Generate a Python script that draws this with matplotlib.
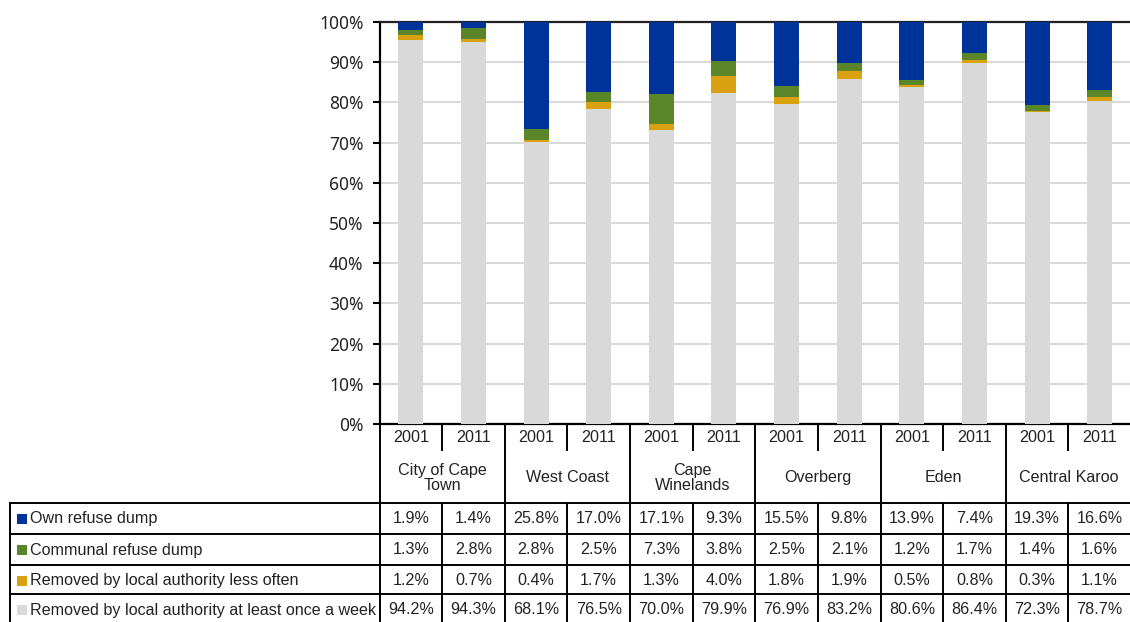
import matplotlib
matplotlib.use("Agg")
import matplotlib.pyplot as plt
import numpy as np
from matplotlib.patches import Rectangle
from matplotlib.lines import Line2D
import matplotlib.transforms as mtransforms

districts = ["City of Cape\nTown", "West Coast", "Cape\nWinelands", "Overberg", "Eden", "Central Karoo"]
years = ["2001", "2011"]
series_names = ["Own refuse dump", "Communal refuse dump",
                "Removed by local authority less often",
                "Removed by local authority at least once a week"]
own = [1.9, 1.4, 25.8, 17.0, 17.1, 9.3, 15.5, 9.8, 13.9, 7.4, 19.3, 16.6]
communal = [1.3, 2.8, 2.8, 2.5, 7.3, 3.8, 2.5, 2.1, 1.2, 1.7, 1.4, 1.6]
less_often = [1.2, 0.7, 0.4, 1.7, 1.3, 4.0, 1.8, 1.9, 0.5, 0.8, 0.3, 1.1]
weekly = [94.2, 94.3, 68.1, 76.5, 70.0, 79.9, 76.9, 83.2, 80.6, 86.4, 72.3, 78.7]
y_ticks = [0, 10, 20, 30, 40, 50, 60, 70, 80, 90, 100]

colors = {"own": "#003399", "communal": "#5B8529", "less": "#D9A00F", "weekly": "#D9D9D9"}

W, H = 1130, 622
fig = plt.figure(figsize=(W / 100, H / 100), dpi=100)
fig.patch.set_facecolor("white")

def fx(px):
    return px / W

def fy(py):
    return 1 - py / H

ax_left, ax_right, ax_top, ax_bot = 379.5, 1131.0, 22.0, 424.0
ax = fig.add_axes([fx(ax_left), fy(ax_bot), (ax_right - ax_left) / W, (ax_bot - ax_top) / H])

n = len(weekly)
x = np.arange(n)
data = np.array([weekly, less_often, communal, own], dtype=float)
totals = data.sum(axis=0)
pct = data / totals * 100
stack_colors = [colors["weekly"], colors["less"], colors["communal"], colors["own"]]
bottom = np.zeros(n)
for vals, c in zip(pct, stack_colors):
    ax.bar(x, vals, bottom=bottom, width=0.4, color=c, edgecolor="none", zorder=3)
    bottom += vals

ax.set_xlim(-0.5, n - 0.5)
ax.set_ylim(0, 100)
ax.set_yticks(y_ticks)
ax.set_yticklabels([f"{t}%" for t in y_ticks], fontsize=12.5, family=["Noto Sans", "DejaVu Sans"], color="#222222")
ax.set_xticks([])
ax.yaxis.grid(True, color="#D9D9D9", linewidth=1.5, zorder=0)
ax.set_axisbelow(True)
ax.spines["right"].set_visible(False)
for s in ["left", "bottom", "top"]:
    ax.spines[s].set_linewidth(1.6)
    ax.spines[s].set_color("black")
ax.spines["top"].set_color("#222222")
ax.tick_params(axis="y", direction="out", length=5, width=1.5, pad=6.5, color="black")

trans = mtransforms.blended_transform_factory(ax.transData, fig.transFigure)
font = ["Liberation Sans", "DejaVu Sans"]
fs = 11.6
lw = 1.4

def vline(xd, y0, y1):
    fig.add_artist(Line2D([xd, xd], [fy(y0), fy(y1)], transform=trans, color="black", lw=lw, clip_on=False))

def hline(y, x0=10, x1=W):
    fig.add_artist(Line2D([fx(x0), fx(x1)], [fy(y), fy(y)], transform=fig.transFigure, color="black", lw=lw, clip_on=False))

rows_y = [502.5, 533.5, 565.0, 594.0]
for ry in rows_y:
    hline(ry)
fig.add_artist(Line2D([fx(10), fx(10)], [fy(502.5), fy(H)], transform=fig.transFigure, color="black", lw=lw))
vline(-0.5, ax_bot, H)
for g in range(len(districts)):
    if g > 0:
        vline(2 * g - 0.5, ax_bot, H)
    vline(2 * g + 0.5, ax_bot, 450)
    vline(2 * g + 0.5, 502.5, H)

for i in range(n):
    fig.text(i, fy(437.5), years[i % 2], transform=trans, ha="center", va="center", fontsize=fs, family=font, color="#222222")
for g, d in enumerate(districts):
    fig.text(2 * g + 0.5, fy(477.5), d, transform=trans, ha="center", va="center", fontsize=fs, family=font,
             color="#222222", linespacing=1.0)

row_series = [own, communal, less_often, weekly]
row_colors = [colors["own"], colors["communal"], colors["less"], colors["weekly"]]
row_centers = [518.5, 550, 580.5, 610]
for r, (vals, yc) in enumerate(zip(row_series, row_centers)):
    for i, v in enumerate(vals):
        fig.text(i, fy(yc), f"{v:.1f}%", transform=trans, ha="center", va="center", fontsize=fs, family=font, color="#222222")
    fig.add_artist(Rectangle((fx(17), fy(yc + 5)), 9.5 / W, 10 / H, transform=fig.transFigure,
                             facecolor=row_colors[r], edgecolor="none"))
    fig.text(fx(30.5), fy(yc), series_names[r], ha="left", va="center", fontsize=fs, family=font, color="#222222")

fig.savefig("out.png", dpi=100, facecolor="white")
